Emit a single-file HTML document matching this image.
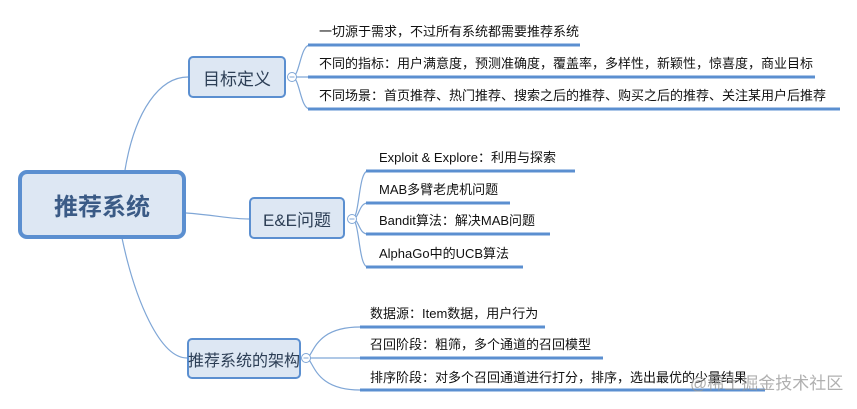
<!DOCTYPE html>
<html><head><meta charset="utf-8"><style>
body{margin:0;width:857px;height:409px;background:#fff;overflow:hidden;font-family:"Liberation Sans","Noto Sans CJK SC",sans-serif}
svg{position:absolute;left:0;top:0}
.t{position:absolute;font-size:13px;color:#111;white-space:nowrap;line-height:16px}
.b{position:absolute;box-sizing:border-box;background:#dde7f3;border:2px solid #5b8fd0;border-radius:5px;display:flex;align-items:center;justify-content:center;font-size:17px;color:#2c3e55;white-space:nowrap}
</style></head><body>
<svg width="857" height="409">
<g fill="none" stroke="#7fa6d6" stroke-width="1.2">
<path d="M125 170 C135 110,160 77,188 77"/>
<path d="M186 213 C215 215,230 219,249 219"/>
<path d="M122 238 C135 300,160 358,187 358"/>
<path d="M292 77 C300 77,300 45,310 45"/>
<path d="M292 77 L310 77"/>
<path d="M292 77 C300 77,300 109,310 109"/>
<path d="M352 219 C360 219,358 171,368 171"/>
<path d="M352 219 C360 219,358 203,368 203"/>
<path d="M352 219 C360 219,358 234,368 234"/>
<path d="M352 219 C360 219,358 267,368 267"/>
<path d="M306 358 C314 358,312 327,360 327"/>
<path d="M306 358 L360 358"/>
<path d="M306 358 C314 358,312 390,360 390"/>
</g>
<g stroke="#5b8fd0" stroke-width="3">
<line x1="308" y1="45" x2="580" y2="45"/>
<line x1="308" y1="77" x2="815" y2="77"/>
<line x1="308" y1="109" x2="840" y2="109"/>
<line x1="366" y1="171" x2="575" y2="171"/>
<line x1="366" y1="203" x2="510" y2="203"/>
<line x1="366" y1="234" x2="550" y2="234"/>
<line x1="366" y1="267" x2="523" y2="267"/>
<line x1="360" y1="327" x2="545" y2="327"/>
<line x1="360" y1="358" x2="603" y2="358"/>
<line x1="360" y1="390" x2="765" y2="390"/>
</g>
<g fill="#fff" stroke="#7fa6d6" stroke-width="1">
<circle cx="292" cy="77" r="4.5"/><line x1="289.5" y1="77" x2="294.5" y2="77"/>
<circle cx="352" cy="219" r="4.5"/><line x1="349.5" y1="219" x2="354.5" y2="219"/>
<circle cx="306" cy="358" r="4.5"/><line x1="303.5" y1="358" x2="308.5" y2="358"/>
</g>
</svg>
<div class="b" style="left:18px;top:170px;width:168px;height:69px;border-width:4px;border-radius:9px;font-size:24px;font-weight:bold;color:#3b5b86">推荐系统</div>
<div class="b" style="left:188px;top:56px;width:98px;height:42px">目标定义</div>
<div class="b" style="left:249px;top:197px;width:96px;height:42px">E&amp;E问题</div>
<div class="b" style="left:187px;top:338px;width:114px;height:41px;font-size:16px">推荐系统的架构</div>
<div class="t" style="left:319px;top:24px">一切源于需求，不过所有系统都需要推荐系统</div>
<div class="t" style="left:319px;top:56px">不同的指标：用户满意度，预测准确度，覆盖率，多样性，新颖性，惊喜度，商业目标</div>
<div class="t" style="left:319px;top:88px">不同场景：首页推荐、热门推荐、搜索之后的推荐、购买之后的推荐、关注某用户后推荐</div>
<div class="t" style="left:379px;top:150px">Exploit &amp; Explore：利用与探索</div>
<div class="t" style="left:379px;top:182px">MAB多臂老虎机问题</div>
<div class="t" style="left:379px;top:213px">Bandit算法：解决MAB问题</div>
<div class="t" style="left:379px;top:246px">AlphaGo中的UCB算法</div>
<div class="t" style="left:370px;top:306px">数据源：Item数据，用户行为</div>
<div class="t" style="left:370px;top:337px">召回阶段：粗筛，多个通道的召回模型</div>
<div class="t" style="left:370px;top:370px">排序阶段：对多个召回通道进行打分，排序，选出最优的少量结果</div>
<div class="t" style="left:690px;top:374px;font-size:17px;line-height:19px;color:rgba(150,150,150,0.75)">@稀土掘金技术社区</div>
</body></html>
